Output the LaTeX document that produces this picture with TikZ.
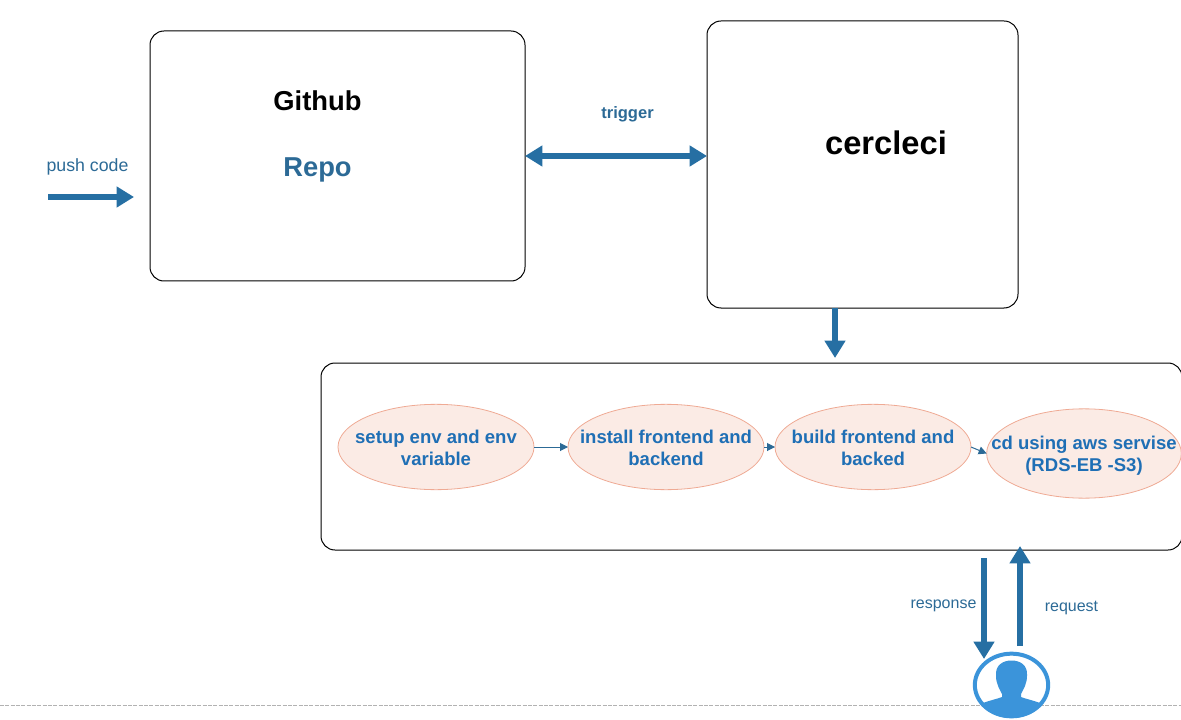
\documentclass[tikz,border=0pt]{standalone}
\usepackage{fontspec}
\setsansfont{Liberation Sans}
\usepackage{tikz}
\usetikzlibrary{positioning,calc,arrows.meta,shapes.geometric}

\definecolor{flowblue}{HTML}{266FA3}
\definecolor{stepblue}{HTML}{1F6FB5}
\definecolor{labelblue}{HTML}{2C6A96}
\definecolor{stepfill}{HTML}{FBEBE5}
\definecolor{stepline}{HTML}{EFAA94}
\definecolor{userblue}{HTML}{3B94DA}

% zero size label, so that the ellipse keeps its own size
\newcommand{\steplabel}[1]{\smash{\raisebox{-5.75pt}{\makebox[0pt]{\begin{tabular}{@{}c@{}}#1\end{tabular}}}}}

\begin{document}
\begin{tikzpicture}[
	x=0.75pt, y=-0.75pt,
	font=\sffamily,
	% --- styles ---
	panel/.style={draw=black, line width=0.75pt, rounded corners=10.5pt, outer sep=0pt, inner sep=0pt},
	stepnode/.style={ellipse, draw=stepline, fill=stepfill, line width=0.6pt, outer sep=0pt, inner sep=0pt,
		minimum width=147pt, minimum height=64pt, text=stepblue,
		font=\sffamily\bfseries\fontsize{13.9}{16.5}\selectfont},
	big_arrow/.style={-{Triangle[length=13pt,width=15pt]}, flowblue, line width=4.5pt},
	both_arrow/.style={{Triangle[length=13pt,width=15pt]}-{Triangle[length=13pt,width=15pt]}, flowblue, line width=4.5pt},
	small_arrow/.style={-{Triangle[length=6pt,width=6pt]}, labelblue, line width=0.75pt},
	flowlabel/.style={text=labelblue, inner sep=0pt, font=\sffamily\fontsize{12}{14}\selectfont}
	]
	\useasboundingbox (0,0) rectangle (1181,720);

	% --- bottom page line ---
	\draw[black!30, line width=0.6pt, dash pattern=on 3pt off 1pt] (0,705) -- (1181,705);

	% --- panels ---
	\node[panel, minimum width=281.25pt, minimum height=187.5pt] (github) at (337.5,156) {};
	\node[panel, minimum width=233.25pt, minimum height=215.25pt] (cercleci) at (862.5,164.5) {};
	\node[panel, minimum width=645.75pt, minimum height=140.25pt] (pipeline) at (751.5,456.5) {};

	% --- panel titles ---
	\node[font=\sffamily\bfseries\fontsize{20.5}{24}\selectfont, inner sep=0pt] (githubtitle) at (317.5,101) {Github};
	\node[font=\sffamily\bfseries\fontsize{20.5}{24}\selectfont, text=labelblue, inner sep=0pt] (repotitle) at (317.5,170) {Repo};
	\node[font=\sffamily\bfseries\fontsize{24.5}{28}\selectfont, inner sep=0pt] (cerclecititle) at (886,143) {cercleci};

	% --- pipeline steps ---
	\node[stepnode] (setup) at (436,447) {\steplabel{setup env and env\\variable}};
	\node[stepnode, right=25.5pt of setup] (install) {\steplabel{install frontend and\\backend}};
	\node[stepnode, right=8.25pt of install] (build) {\steplabel{build frontend and\\backed}};
	\node[stepnode, minimum width=146pt, minimum height=67pt] (deploy) at (1084,453.5) {\steplabel{cd using aws servise\\(RDS-EB -S3)}};

	\draw[small_arrow] (setup) -- (install);
	\draw[small_arrow] (install) -- (build);
	\draw[small_arrow] (build.east) -- (deploy.west);

	% --- user icon ---
	\node[ellipse, draw=userblue, fill=white, line width=3pt, minimum width=55pt, minimum height=47pt, inner sep=0pt, outer sep=0pt] (user) at (1011.5,685) {};
	\begin{scope}
		\clip (user.center) ellipse [x radius=38, y radius=33];
		\fill[userblue] (996,676) .. controls (995,665) and (1003,660.5) .. (1011.5,660.5)
			.. controls (1020,660.5) and (1028,665) .. (1027,676)
			.. controls (1027,684) and (1023,690) .. (1021,694)
			-- (1021,697) .. controls (1026,699) and (1032,700) .. (1040,703)
			-- (1040,720) -- (983,720) -- (983,703)
			.. controls (991,700) and (997,699) .. (1002,697)
			-- (1002,694) .. controls (1000,690) and (996,684) .. (996,676) -- cycle;
	\end{scope}

	% --- free arrow ends ---
	\coordinate (pushstart) at (48,197);
	\coordinate (pushend) at (134,197);
	\coordinate (stepsin) at (835,358);
	\coordinate (responsestart) at (984,558);
	\coordinate (responseend) at (984,659);
	\coordinate (requeststart) at (1020,646);
	\coordinate (requestend) at (1020,546);

	% --- thick arrows ---
	\draw[big_arrow] (pushstart) -- (pushend);
	\draw[both_arrow] (github.east) -- (github.east -| cercleci.west);
	\draw[big_arrow] (stepsin |- cercleci.south) -- (stepsin);
	\draw[big_arrow] (responsestart) -- (responseend);
	\draw[big_arrow] (requeststart) -- (requestend);

	% --- arrow labels ---
	\node[flowlabel, font=\sffamily\fontsize{13.3}{15}\selectfont] (pushlabel) at (87.5,167) {push code};
	\node[flowlabel, font=\sffamily\bfseries\fontsize{12.4}{15}\selectfont] (triggerlabel) at (627.5,114) {trigger};
	\node[flowlabel] (responselabel) at (943.5,606) {response};
	\node[flowlabel] (requestlabel) at (1071.5,608) {request};
\end{tikzpicture}
\end{document}
